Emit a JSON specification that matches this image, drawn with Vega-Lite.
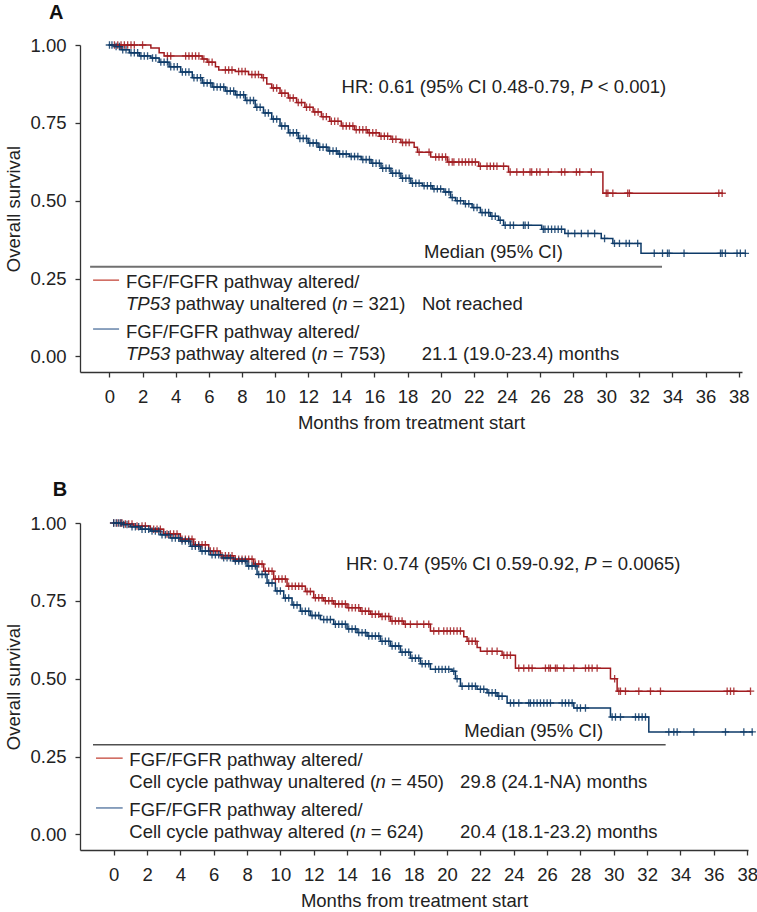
{
"$schema": "https://vega.github.io/schema/vega-lite/v6.json",
"padding": {"left": 4, "top": 3, "right": 0, "bottom": 0},
"background": "white",
"spacing": 47,
"config": {
  "view": {"stroke": null},
  "axis": {"labelFont": "Liberation Sans", "titleFont": "Liberation Sans", "labelFontSize": 18.5, "titleFontSize": 18.5, "titleFontWeight": "normal", "labelColor": "#222", "titleColor": "#222", "domainColor": "#333", "tickColor": "#333", "domainWidth": 1.3, "tickWidth": 1.3, "tickSize": 5, "grid": false, "labelFlush": false, "labelOverlap": false},
  "text": {"font": "Liberation Sans", "fontSize": 18.5, "color": "#222"}
},
"datasets": {
  "one": [{"k": 1}],
  "curveA": [
    {"group":"unaltered","month":0,"survival":1},{"group":"unaltered","month":2.5,"survival":0.99},{"group":"unaltered","month":3.0,"survival":0.975},{"group":"unaltered","month":3.3,"survival":0.965},{"group":"unaltered","month":5.6,"survival":0.955},{"group":"unaltered","month":5.9,"survival":0.945},{"group":"unaltered","month":6.4,"survival":0.93},{"group":"unaltered","month":6.6,"survival":0.92},{"group":"unaltered","month":7.6,"survival":0.915},{"group":"unaltered","month":8.4,"survival":0.905},{"group":"unaltered","month":9.2,"survival":0.895},{"group":"unaltered","month":9.5,"survival":0.875},{"group":"unaltered","month":9.8,"survival":0.862},{"group":"unaltered","month":10.3,"survival":0.845},{"group":"unaltered","month":10.8,"survival":0.83},{"group":"unaltered","month":11.3,"survival":0.815},{"group":"unaltered","month":11.8,"survival":0.8},{"group":"unaltered","month":12.3,"survival":0.785},{"group":"unaltered","month":12.8,"survival":0.77},{"group":"unaltered","month":13.3,"survival":0.755},{"group":"unaltered","month":14.0,"survival":0.74},{"group":"unaltered","month":14.8,"survival":0.728},{"group":"unaltered","month":15.6,"survival":0.718},{"group":"unaltered","month":16.3,"survival":0.707},{"group":"unaltered","month":17.0,"survival":0.697},{"group":"unaltered","month":17.6,"survival":0.687},{"group":"unaltered","month":18.4,"survival":0.672},{"group":"unaltered","month":18.6,"survival":0.656},{"group":"unaltered","month":19.4,"survival":0.64},{"group":"unaltered","month":20.4,"survival":0.624},{"group":"unaltered","month":22.3,"survival":0.611},{"group":"unaltered","month":24.1,"survival":0.592},{"group":"unaltered","month":29.8,"survival":0.524},{"group":"unaltered","month":37.05,"survival":0.524},
    {"group":"altered","month":0,"survival":1},{"group":"altered","month":0.3,"survival":0.995},{"group":"altered","month":0.7,"survival":0.985},{"group":"altered","month":1.2,"survival":0.975},{"group":"altered","month":1.8,"survival":0.965},{"group":"altered","month":2.5,"survival":0.958},{"group":"altered","month":3.0,"survival":0.945},{"group":"altered","month":3.6,"survival":0.93},{"group":"altered","month":4.3,"survival":0.913},{"group":"altered","month":5.0,"survival":0.895},{"group":"altered","month":5.6,"survival":0.878},{"group":"altered","month":6.2,"survival":0.865},{"group":"altered","month":7.0,"survival":0.852},{"group":"altered","month":7.6,"survival":0.84},{"group":"altered","month":8.2,"survival":0.822},{"group":"altered","month":8.8,"survival":0.8},{"group":"altered","month":9.3,"survival":0.782},{"group":"altered","month":9.8,"survival":0.762},{"group":"altered","month":10.3,"survival":0.74},{"group":"altered","month":10.8,"survival":0.718},{"group":"altered","month":11.4,"survival":0.7},{"group":"altered","month":12.0,"survival":0.685},{"group":"altered","month":12.6,"survival":0.672},{"group":"altered","month":13.2,"survival":0.66},{"group":"altered","month":13.8,"survival":0.65},{"group":"altered","month":14.5,"survival":0.642},{"group":"altered","month":15.2,"survival":0.632},{"group":"altered","month":15.8,"survival":0.62},{"group":"altered","month":16.4,"survival":0.604},{"group":"altered","month":17.0,"survival":0.588},{"group":"altered","month":17.6,"survival":0.572},{"group":"altered","month":18.2,"survival":0.556},{"group":"altered","month":18.9,"survival":0.548},{"group":"altered","month":19.5,"survival":0.538},{"group":"altered","month":20.2,"survival":0.528},{"group":"altered","month":20.6,"survival":0.51},{"group":"altered","month":20.9,"survival":0.5},{"group":"altered","month":21.4,"survival":0.49},{"group":"altered","month":21.9,"survival":0.478},{"group":"altered","month":22.4,"survival":0.462},{"group":"altered","month":23.0,"survival":0.45},{"group":"altered","month":23.5,"survival":0.437},{"group":"altered","month":23.8,"survival":0.421},{"group":"altered","month":26.1,"survival":0.408},{"group":"altered","month":27.5,"survival":0.395},{"group":"altered","month":29.7,"survival":0.379},{"group":"altered","month":30.4,"survival":0.363},{"group":"altered","month":32.1,"survival":0.331},{"group":"altered","month":38.45,"survival":0.331}
  ],
  "censA": [
    {"group":"unaltered","month":0.3,"survival":1},{"group":"unaltered","month":0.5,"survival":1},{"group":"unaltered","month":0.7,"survival":1},{"group":"unaltered","month":0.9,"survival":1},{"group":"unaltered","month":1.1,"survival":1},{"group":"unaltered","month":1.3,"survival":1},{"group":"unaltered","month":1.5,"survival":1},{"group":"unaltered","month":2.0,"survival":1},{"group":"unaltered","month":3.5,"survival":0.965},{"group":"unaltered","month":3.7,"survival":0.965},{"group":"unaltered","month":4.6,"survival":0.965},{"group":"unaltered","month":4.8,"survival":0.965},{"group":"unaltered","month":5.0,"survival":0.965},{"group":"unaltered","month":5.2,"survival":0.965},{"group":"unaltered","month":5.4,"survival":0.965},{"group":"unaltered","month":5.7,"survival":0.955},{"group":"unaltered","month":6.0,"survival":0.945},{"group":"unaltered","month":6.2,"survival":0.945},{"group":"unaltered","month":7.0,"survival":0.92},{"group":"unaltered","month":7.2,"survival":0.92},{"group":"unaltered","month":7.4,"survival":0.92},{"group":"unaltered","month":7.8,"survival":0.915},{"group":"unaltered","month":8.0,"survival":0.915},{"group":"unaltered","month":8.2,"survival":0.915},{"group":"unaltered","month":8.6,"survival":0.905},{"group":"unaltered","month":8.8,"survival":0.905},{"group":"unaltered","month":9.0,"survival":0.905},{"group":"unaltered","month":9.3,"survival":0.895},{"group":"unaltered","month":9.9,"survival":0.862},{"group":"unaltered","month":10.1,"survival":0.862},{"group":"unaltered","month":10.4,"survival":0.845},{"group":"unaltered","month":10.6,"survival":0.845},{"group":"unaltered","month":10.9,"survival":0.83},{"group":"unaltered","month":11.1,"survival":0.83},{"group":"unaltered","month":11.4,"survival":0.815},{"group":"unaltered","month":11.6,"survival":0.815},{"group":"unaltered","month":11.9,"survival":0.8},{"group":"unaltered","month":12.1,"survival":0.8},{"group":"unaltered","month":12.4,"survival":0.785},{"group":"unaltered","month":12.6,"survival":0.785},{"group":"unaltered","month":12.9,"survival":0.77},{"group":"unaltered","month":13.1,"survival":0.77},{"group":"unaltered","month":13.4,"survival":0.755},{"group":"unaltered","month":13.6,"survival":0.755},{"group":"unaltered","month":13.8,"survival":0.755},{"group":"unaltered","month":14.1,"survival":0.74},{"group":"unaltered","month":14.3,"survival":0.74},{"group":"unaltered","month":14.5,"survival":0.74},{"group":"unaltered","month":14.7,"survival":0.74},{"group":"unaltered","month":14.9,"survival":0.728},{"group":"unaltered","month":15.1,"survival":0.728},{"group":"unaltered","month":15.3,"survival":0.728},{"group":"unaltered","month":15.5,"survival":0.728},{"group":"unaltered","month":15.7,"survival":0.718},{"group":"unaltered","month":15.9,"survival":0.718},{"group":"unaltered","month":16.1,"survival":0.718},{"group":"unaltered","month":16.4,"survival":0.707},{"group":"unaltered","month":16.6,"survival":0.707},{"group":"unaltered","month":16.8,"survival":0.707},{"group":"unaltered","month":17.1,"survival":0.697},{"group":"unaltered","month":17.3,"survival":0.697},{"group":"unaltered","month":17.7,"survival":0.687},{"group":"unaltered","month":17.9,"survival":0.687},{"group":"unaltered","month":18.1,"survival":0.687},{"group":"unaltered","month":18.7,"survival":0.656},{"group":"unaltered","month":19.3,"survival":0.656},{"group":"unaltered","month":19.7,"survival":0.64},{"group":"unaltered","month":19.9,"survival":0.64},{"group":"unaltered","month":20.1,"survival":0.64},{"group":"unaltered","month":20.3,"survival":0.64},{"group":"unaltered","month":20.5,"survival":0.624},{"group":"unaltered","month":20.7,"survival":0.624},{"group":"unaltered","month":20.8,"survival":0.624},{"group":"unaltered","month":21.1,"survival":0.624},{"group":"unaltered","month":21.3,"survival":0.624},{"group":"unaltered","month":21.5,"survival":0.624},{"group":"unaltered","month":21.7,"survival":0.624},{"group":"unaltered","month":21.9,"survival":0.624},{"group":"unaltered","month":22.1,"survival":0.624},{"group":"unaltered","month":22.4,"survival":0.611},{"group":"unaltered","month":22.8,"survival":0.611},{"group":"unaltered","month":23.0,"survival":0.611},{"group":"unaltered","month":23.2,"survival":0.611},{"group":"unaltered","month":23.4,"survival":0.611},{"group":"unaltered","month":23.8,"survival":0.611},{"group":"unaltered","month":24.2,"survival":0.592},{"group":"unaltered","month":24.6,"survival":0.592},{"group":"unaltered","month":25.0,"survival":0.592},{"group":"unaltered","month":25.4,"survival":0.592},{"group":"unaltered","month":25.5,"survival":0.592},{"group":"unaltered","month":25.8,"survival":0.592},{"group":"unaltered","month":26.0,"survival":0.592},{"group":"unaltered","month":26.5,"survival":0.592},{"group":"unaltered","month":27.3,"survival":0.592},{"group":"unaltered","month":27.5,"survival":0.592},{"group":"unaltered","month":28.2,"survival":0.592},{"group":"unaltered","month":28.4,"survival":0.592},{"group":"unaltered","month":29.1,"survival":0.592},{"group":"unaltered","month":30.0,"survival":0.524},{"group":"unaltered","month":30.1,"survival":0.524},{"group":"unaltered","month":30.4,"survival":0.524},{"group":"unaltered","month":31.3,"survival":0.524},{"group":"unaltered","month":31.4,"survival":0.524},{"group":"unaltered","month":36.8,"survival":0.524},{"group":"unaltered","month":37.0,"survival":0.524},
    {"group":"altered","month":0.0,"survival":1},{"group":"altered","month":0.15,"survival":1},{"group":"altered","month":0.4,"survival":0.995},{"group":"altered","month":0.6,"survival":0.995},{"group":"altered","month":0.8,"survival":0.985},{"group":"altered","month":1.0,"survival":0.985},{"group":"altered","month":1.3,"survival":0.975},{"group":"altered","month":1.5,"survival":0.975},{"group":"altered","month":1.7,"survival":0.975},{"group":"altered","month":1.9,"survival":0.965},{"group":"altered","month":2.1,"survival":0.965},{"group":"altered","month":2.3,"survival":0.965},{"group":"altered","month":2.6,"survival":0.958},{"group":"altered","month":2.8,"survival":0.958},{"group":"altered","month":3.1,"survival":0.945},{"group":"altered","month":3.3,"survival":0.945},{"group":"altered","month":3.5,"survival":0.945},{"group":"altered","month":3.7,"survival":0.93},{"group":"altered","month":3.9,"survival":0.93},{"group":"altered","month":4.1,"survival":0.93},{"group":"altered","month":4.4,"survival":0.913},{"group":"altered","month":4.6,"survival":0.913},{"group":"altered","month":4.8,"survival":0.913},{"group":"altered","month":5.1,"survival":0.895},{"group":"altered","month":5.3,"survival":0.895},{"group":"altered","month":5.5,"survival":0.895},{"group":"altered","month":5.7,"survival":0.878},{"group":"altered","month":5.9,"survival":0.878},{"group":"altered","month":6.1,"survival":0.878},{"group":"altered","month":6.3,"survival":0.865},{"group":"altered","month":6.5,"survival":0.865},{"group":"altered","month":6.7,"survival":0.865},{"group":"altered","month":6.9,"survival":0.865},{"group":"altered","month":7.1,"survival":0.852},{"group":"altered","month":7.3,"survival":0.852},{"group":"altered","month":7.5,"survival":0.852},{"group":"altered","month":7.7,"survival":0.84},{"group":"altered","month":7.9,"survival":0.84},{"group":"altered","month":8.1,"survival":0.84},{"group":"altered","month":8.3,"survival":0.822},{"group":"altered","month":8.5,"survival":0.822},{"group":"altered","month":8.7,"survival":0.822},{"group":"altered","month":8.9,"survival":0.8},{"group":"altered","month":9.1,"survival":0.8},{"group":"altered","month":9.4,"survival":0.782},{"group":"altered","month":9.6,"survival":0.782},{"group":"altered","month":9.9,"survival":0.762},{"group":"altered","month":10.1,"survival":0.762},{"group":"altered","month":10.4,"survival":0.74},{"group":"altered","month":10.6,"survival":0.74},{"group":"altered","month":10.9,"survival":0.718},{"group":"altered","month":11.1,"survival":0.718},{"group":"altered","month":11.3,"survival":0.718},{"group":"altered","month":11.5,"survival":0.7},{"group":"altered","month":11.7,"survival":0.7},{"group":"altered","month":11.9,"survival":0.7},{"group":"altered","month":12.1,"survival":0.685},{"group":"altered","month":12.3,"survival":0.685},{"group":"altered","month":12.5,"survival":0.685},{"group":"altered","month":12.7,"survival":0.672},{"group":"altered","month":12.9,"survival":0.672},{"group":"altered","month":13.1,"survival":0.672},{"group":"altered","month":13.3,"survival":0.66},{"group":"altered","month":13.5,"survival":0.66},{"group":"altered","month":13.7,"survival":0.66},{"group":"altered","month":13.9,"survival":0.65},{"group":"altered","month":14.1,"survival":0.65},{"group":"altered","month":14.3,"survival":0.65},{"group":"altered","month":14.6,"survival":0.642},{"group":"altered","month":14.8,"survival":0.642},{"group":"altered","month":15.0,"survival":0.642},{"group":"altered","month":15.3,"survival":0.632},{"group":"altered","month":15.5,"survival":0.632},{"group":"altered","month":15.7,"survival":0.632},{"group":"altered","month":15.9,"survival":0.62},{"group":"altered","month":16.1,"survival":0.62},{"group":"altered","month":16.3,"survival":0.62},{"group":"altered","month":16.5,"survival":0.604},{"group":"altered","month":16.7,"survival":0.604},{"group":"altered","month":16.9,"survival":0.604},{"group":"altered","month":17.1,"survival":0.588},{"group":"altered","month":17.3,"survival":0.588},{"group":"altered","month":17.5,"survival":0.588},{"group":"altered","month":17.7,"survival":0.572},{"group":"altered","month":17.9,"survival":0.572},{"group":"altered","month":18.1,"survival":0.572},{"group":"altered","month":18.3,"survival":0.556},{"group":"altered","month":18.5,"survival":0.556},{"group":"altered","month":18.7,"survival":0.556},{"group":"altered","month":19.0,"survival":0.548},{"group":"altered","month":19.2,"survival":0.548},{"group":"altered","month":19.4,"survival":0.548},{"group":"altered","month":19.6,"survival":0.538},{"group":"altered","month":19.8,"survival":0.538},{"group":"altered","month":20.0,"survival":0.538},{"group":"altered","month":20.3,"survival":0.528},{"group":"altered","month":20.5,"survival":0.528},{"group":"altered","month":20.7,"survival":0.51},{"group":"altered","month":21.0,"survival":0.5},{"group":"altered","month":21.2,"survival":0.5},{"group":"altered","month":21.5,"survival":0.49},{"group":"altered","month":21.7,"survival":0.49},{"group":"altered","month":22.0,"survival":0.478},{"group":"altered","month":22.2,"survival":0.478},{"group":"altered","month":22.5,"survival":0.462},{"group":"altered","month":22.7,"survival":0.462},{"group":"altered","month":22.9,"survival":0.462},{"group":"altered","month":23.1,"survival":0.45},{"group":"altered","month":23.3,"survival":0.45},{"group":"altered","month":23.6,"survival":0.437},{"group":"altered","month":23.9,"survival":0.421},{"group":"altered","month":24.2,"survival":0.421},{"group":"altered","month":24.4,"survival":0.421},{"group":"altered","month":25.0,"survival":0.421},{"group":"altered","month":25.1,"survival":0.421},{"group":"altered","month":25.3,"survival":0.421},{"group":"altered","month":26.2,"survival":0.408},{"group":"altered","month":26.3,"survival":0.408},{"group":"altered","month":26.5,"survival":0.408},{"group":"altered","month":26.7,"survival":0.408},{"group":"altered","month":26.9,"survival":0.408},{"group":"altered","month":27.1,"survival":0.408},{"group":"altered","month":27.3,"survival":0.408},{"group":"altered","month":27.7,"survival":0.395},{"group":"altered","month":28.1,"survival":0.395},{"group":"altered","month":28.5,"survival":0.395},{"group":"altered","month":28.9,"survival":0.395},{"group":"altered","month":29.3,"survival":0.395},{"group":"altered","month":29.9,"survival":0.379},{"group":"altered","month":30.5,"survival":0.363},{"group":"altered","month":30.8,"survival":0.363},{"group":"altered","month":31.2,"survival":0.363},{"group":"altered","month":31.4,"survival":0.363},{"group":"altered","month":31.9,"survival":0.363},{"group":"altered","month":32.9,"survival":0.331},{"group":"altered","month":33.4,"survival":0.331},{"group":"altered","month":33.7,"survival":0.331},{"group":"altered","month":33.8,"survival":0.331},{"group":"altered","month":34.7,"survival":0.331},{"group":"altered","month":36.9,"survival":0.331},{"group":"altered","month":37.0,"survival":0.331},{"group":"altered","month":37.2,"survival":0.331},{"group":"altered","month":37.9,"survival":0.331},{"group":"altered","month":38.1,"survival":0.331},{"group":"altered","month":38.4,"survival":0.331}
  ],
  "curveB": [
    {"group":"unaltered","month":0,"survival":1},{"group":"unaltered","month":0.6,"survival":0.997},{"group":"unaltered","month":1.2,"survival":0.99},{"group":"unaltered","month":2.2,"survival":0.98},{"group":"unaltered","month":3.0,"survival":0.965},{"group":"unaltered","month":4.0,"survival":0.948},{"group":"unaltered","month":4.8,"survival":0.93},{"group":"unaltered","month":5.7,"survival":0.91},{"group":"unaltered","month":6.4,"survival":0.895},{"group":"unaltered","month":7.2,"survival":0.884},{"group":"unaltered","month":8.4,"survival":0.868},{"group":"unaltered","month":9.0,"survival":0.845},{"group":"unaltered","month":9.6,"survival":0.82},{"group":"unaltered","month":10.4,"survival":0.797},{"group":"unaltered","month":11.5,"survival":0.78},{"group":"unaltered","month":12.0,"survival":0.76},{"group":"unaltered","month":12.6,"survival":0.75},{"group":"unaltered","month":13.2,"survival":0.74},{"group":"unaltered","month":14.0,"survival":0.728},{"group":"unaltered","month":14.8,"survival":0.717},{"group":"unaltered","month":15.4,"survival":0.707},{"group":"unaltered","month":16.0,"survival":0.7},{"group":"unaltered","month":16.6,"survival":0.685},{"group":"unaltered","month":17.4,"survival":0.675},{"group":"unaltered","month":19.0,"survival":0.653},{"group":"unaltered","month":21.0,"survival":0.635},{"group":"unaltered","month":21.2,"survival":0.62},{"group":"unaltered","month":21.8,"survival":0.6},{"group":"unaltered","month":22.0,"survival":0.588},{"group":"unaltered","month":23.3,"survival":0.575},{"group":"unaltered","month":24.1,"survival":0.534},{"group":"unaltered","month":29.8,"survival":0.5},{"group":"unaltered","month":30.2,"survival":0.46},{"group":"unaltered","month":38.2,"survival":0.46},
    {"group":"altered","month":0,"survival":1},{"group":"altered","month":0.5,"survival":0.995},{"group":"altered","month":1.0,"survival":0.988},{"group":"altered","month":1.6,"survival":0.98},{"group":"altered","month":2.2,"survival":0.974},{"group":"altered","month":2.8,"survival":0.962},{"group":"altered","month":3.4,"survival":0.952},{"group":"altered","month":4.0,"survival":0.942},{"group":"altered","month":4.6,"survival":0.925},{"group":"altered","month":5.2,"survival":0.91},{"group":"altered","month":5.8,"survival":0.898},{"group":"altered","month":6.5,"survival":0.888},{"group":"altered","month":7.2,"survival":0.878},{"group":"altered","month":8.0,"survival":0.862},{"group":"altered","month":8.6,"survival":0.835},{"group":"altered","month":9.2,"survival":0.807},{"group":"altered","month":9.7,"survival":0.782},{"group":"altered","month":10.2,"survival":0.759},{"group":"altered","month":10.7,"survival":0.737},{"group":"altered","month":11.2,"survival":0.717},{"group":"altered","month":11.8,"survival":0.703},{"group":"altered","month":12.4,"survival":0.69},{"group":"altered","month":13.2,"survival":0.675},{"group":"altered","month":14.0,"survival":0.66},{"group":"altered","month":14.6,"survival":0.648},{"group":"altered","month":15.2,"survival":0.637},{"group":"altered","month":16.0,"survival":0.62},{"group":"altered","month":16.6,"survival":0.605},{"group":"altered","month":17.2,"survival":0.585},{"group":"altered","month":17.8,"survival":0.566},{"group":"altered","month":18.4,"survival":0.548},{"group":"altered","month":19.0,"survival":0.53},{"group":"altered","month":20.3,"survival":0.524},{"group":"altered","month":20.5,"survival":0.5},{"group":"altered","month":20.8,"survival":0.476},{"group":"altered","month":21.8,"survival":0.466},{"group":"altered","month":22.4,"survival":0.455},{"group":"altered","month":23.0,"survival":0.444},{"group":"altered","month":23.6,"survival":0.422},{"group":"altered","month":27.6,"survival":0.406},{"group":"altered","month":29.8,"survival":0.377},{"group":"altered","month":32.1,"survival":0.329},{"group":"altered","month":38.35,"survival":0.329}
  ],
  "censB": [
    {"group":"unaltered","month":0.0,"survival":1},{"group":"unaltered","month":0.2,"survival":1},{"group":"unaltered","month":0.4,"survival":1},{"group":"unaltered","month":0.5,"survival":1},{"group":"unaltered","month":0.7,"survival":0.997},{"group":"unaltered","month":0.9,"survival":0.997},{"group":"unaltered","month":1.1,"survival":0.997},{"group":"unaltered","month":1.4,"survival":0.99},{"group":"unaltered","month":1.7,"survival":0.99},{"group":"unaltered","month":1.9,"survival":0.99},{"group":"unaltered","month":2.4,"survival":0.98},{"group":"unaltered","month":2.6,"survival":0.98},{"group":"unaltered","month":2.8,"survival":0.98},{"group":"unaltered","month":3.2,"survival":0.965},{"group":"unaltered","month":3.4,"survival":0.965},{"group":"unaltered","month":3.6,"survival":0.965},{"group":"unaltered","month":3.8,"survival":0.965},{"group":"unaltered","month":4.1,"survival":0.948},{"group":"unaltered","month":4.3,"survival":0.948},{"group":"unaltered","month":4.5,"survival":0.948},{"group":"unaltered","month":4.7,"survival":0.948},{"group":"unaltered","month":4.9,"survival":0.93},{"group":"unaltered","month":5.1,"survival":0.93},{"group":"unaltered","month":5.3,"survival":0.93},{"group":"unaltered","month":5.5,"survival":0.93},{"group":"unaltered","month":5.8,"survival":0.91},{"group":"unaltered","month":6.0,"survival":0.91},{"group":"unaltered","month":6.2,"survival":0.91},{"group":"unaltered","month":6.5,"survival":0.895},{"group":"unaltered","month":6.7,"survival":0.895},{"group":"unaltered","month":6.9,"survival":0.895},{"group":"unaltered","month":7.1,"survival":0.895},{"group":"unaltered","month":7.3,"survival":0.884},{"group":"unaltered","month":7.5,"survival":0.884},{"group":"unaltered","month":7.7,"survival":0.884},{"group":"unaltered","month":7.9,"survival":0.884},{"group":"unaltered","month":8.1,"survival":0.884},{"group":"unaltered","month":8.3,"survival":0.884},{"group":"unaltered","month":8.5,"survival":0.868},{"group":"unaltered","month":8.7,"survival":0.868},{"group":"unaltered","month":8.9,"survival":0.868},{"group":"unaltered","month":9.1,"survival":0.845},{"group":"unaltered","month":9.3,"survival":0.845},{"group":"unaltered","month":9.5,"survival":0.845},{"group":"unaltered","month":9.7,"survival":0.82},{"group":"unaltered","month":9.9,"survival":0.82},{"group":"unaltered","month":10.1,"survival":0.82},{"group":"unaltered","month":10.3,"survival":0.82},{"group":"unaltered","month":10.5,"survival":0.797},{"group":"unaltered","month":10.7,"survival":0.797},{"group":"unaltered","month":10.9,"survival":0.797},{"group":"unaltered","month":11.1,"survival":0.797},{"group":"unaltered","month":11.3,"survival":0.797},{"group":"unaltered","month":11.6,"survival":0.78},{"group":"unaltered","month":11.8,"survival":0.78},{"group":"unaltered","month":12.1,"survival":0.76},{"group":"unaltered","month":12.3,"survival":0.76},{"group":"unaltered","month":12.5,"survival":0.76},{"group":"unaltered","month":12.7,"survival":0.75},{"group":"unaltered","month":12.9,"survival":0.75},{"group":"unaltered","month":13.1,"survival":0.75},{"group":"unaltered","month":13.3,"survival":0.74},{"group":"unaltered","month":13.5,"survival":0.74},{"group":"unaltered","month":13.7,"survival":0.74},{"group":"unaltered","month":13.9,"survival":0.74},{"group":"unaltered","month":14.1,"survival":0.728},{"group":"unaltered","month":14.3,"survival":0.728},{"group":"unaltered","month":14.5,"survival":0.728},{"group":"unaltered","month":14.7,"survival":0.728},{"group":"unaltered","month":14.9,"survival":0.717},{"group":"unaltered","month":15.1,"survival":0.717},{"group":"unaltered","month":15.3,"survival":0.717},{"group":"unaltered","month":15.5,"survival":0.707},{"group":"unaltered","month":15.7,"survival":0.707},{"group":"unaltered","month":15.9,"survival":0.707},{"group":"unaltered","month":16.1,"survival":0.7},{"group":"unaltered","month":16.3,"survival":0.7},{"group":"unaltered","month":16.5,"survival":0.7},{"group":"unaltered","month":16.7,"survival":0.685},{"group":"unaltered","month":16.9,"survival":0.685},{"group":"unaltered","month":17.1,"survival":0.685},{"group":"unaltered","month":17.3,"survival":0.685},{"group":"unaltered","month":17.5,"survival":0.675},{"group":"unaltered","month":17.8,"survival":0.675},{"group":"unaltered","month":18.2,"survival":0.675},{"group":"unaltered","month":18.6,"survival":0.675},{"group":"unaltered","month":18.9,"survival":0.675},{"group":"unaltered","month":19.2,"survival":0.653},{"group":"unaltered","month":19.5,"survival":0.653},{"group":"unaltered","month":19.8,"survival":0.653},{"group":"unaltered","month":20.0,"survival":0.653},{"group":"unaltered","month":20.2,"survival":0.653},{"group":"unaltered","month":20.4,"survival":0.653},{"group":"unaltered","month":20.6,"survival":0.653},{"group":"unaltered","month":20.8,"survival":0.653},{"group":"unaltered","month":21.3,"survival":0.62},{"group":"unaltered","month":21.5,"survival":0.62},{"group":"unaltered","month":21.7,"survival":0.62},{"group":"unaltered","month":22.4,"survival":0.588},{"group":"unaltered","month":22.7,"survival":0.588},{"group":"unaltered","month":23.0,"survival":0.588},{"group":"unaltered","month":23.4,"survival":0.575},{"group":"unaltered","month":23.6,"survival":0.575},{"group":"unaltered","month":23.8,"survival":0.575},{"group":"unaltered","month":24.3,"survival":0.534},{"group":"unaltered","month":24.6,"survival":0.534},{"group":"unaltered","month":24.9,"survival":0.534},{"group":"unaltered","month":25.1,"survival":0.534},{"group":"unaltered","month":25.9,"survival":0.534},{"group":"unaltered","month":26.1,"survival":0.534},{"group":"unaltered","month":26.2,"survival":0.534},{"group":"unaltered","month":26.5,"survival":0.534},{"group":"unaltered","month":26.6,"survival":0.534},{"group":"unaltered","month":27.0,"survival":0.534},{"group":"unaltered","month":27.6,"survival":0.534},{"group":"unaltered","month":28.3,"survival":0.534},{"group":"unaltered","month":28.5,"survival":0.534},{"group":"unaltered","month":28.7,"survival":0.534},{"group":"unaltered","month":29.0,"survival":0.534},{"group":"unaltered","month":30.05,"survival":0.5},{"group":"unaltered","month":30.3,"survival":0.46},{"group":"unaltered","month":30.4,"survival":0.46},{"group":"unaltered","month":30.7,"survival":0.46},{"group":"unaltered","month":31.5,"survival":0.46},{"group":"unaltered","month":32.2,"survival":0.46},{"group":"unaltered","month":32.8,"survival":0.46},{"group":"unaltered","month":36.8,"survival":0.46},{"group":"unaltered","month":37.0,"survival":0.46},{"group":"unaltered","month":37.2,"survival":0.46},{"group":"unaltered","month":38.2,"survival":0.46},
    {"group":"altered","month":0.0,"survival":1},{"group":"altered","month":0.15,"survival":1},{"group":"altered","month":0.3,"survival":1},{"group":"altered","month":0.45,"survival":1},{"group":"altered","month":0.6,"survival":0.995},{"group":"altered","month":0.8,"survival":0.995},{"group":"altered","month":1.1,"survival":0.988},{"group":"altered","month":1.3,"survival":0.988},{"group":"altered","month":1.5,"survival":0.988},{"group":"altered","month":1.7,"survival":0.98},{"group":"altered","month":1.9,"survival":0.98},{"group":"altered","month":2.1,"survival":0.98},{"group":"altered","month":2.3,"survival":0.974},{"group":"altered","month":2.5,"survival":0.974},{"group":"altered","month":2.7,"survival":0.974},{"group":"altered","month":2.9,"survival":0.962},{"group":"altered","month":3.1,"survival":0.962},{"group":"altered","month":3.3,"survival":0.962},{"group":"altered","month":3.5,"survival":0.952},{"group":"altered","month":3.7,"survival":0.952},{"group":"altered","month":3.9,"survival":0.952},{"group":"altered","month":4.1,"survival":0.942},{"group":"altered","month":4.3,"survival":0.942},{"group":"altered","month":4.5,"survival":0.942},{"group":"altered","month":4.7,"survival":0.925},{"group":"altered","month":4.9,"survival":0.925},{"group":"altered","month":5.1,"survival":0.925},{"group":"altered","month":5.3,"survival":0.91},{"group":"altered","month":5.5,"survival":0.91},{"group":"altered","month":5.7,"survival":0.91},{"group":"altered","month":5.9,"survival":0.898},{"group":"altered","month":6.1,"survival":0.898},{"group":"altered","month":6.3,"survival":0.898},{"group":"altered","month":6.6,"survival":0.888},{"group":"altered","month":6.8,"survival":0.888},{"group":"altered","month":7.0,"survival":0.888},{"group":"altered","month":7.3,"survival":0.878},{"group":"altered","month":7.5,"survival":0.878},{"group":"altered","month":7.7,"survival":0.878},{"group":"altered","month":7.9,"survival":0.878},{"group":"altered","month":8.1,"survival":0.862},{"group":"altered","month":8.3,"survival":0.862},{"group":"altered","month":8.5,"survival":0.862},{"group":"altered","month":8.7,"survival":0.835},{"group":"altered","month":8.9,"survival":0.835},{"group":"altered","month":9.1,"survival":0.835},{"group":"altered","month":9.3,"survival":0.807},{"group":"altered","month":9.5,"survival":0.807},{"group":"altered","month":9.8,"survival":0.782},{"group":"altered","month":10.0,"survival":0.782},{"group":"altered","month":10.3,"survival":0.759},{"group":"altered","month":10.5,"survival":0.759},{"group":"altered","month":10.8,"survival":0.737},{"group":"altered","month":11.0,"survival":0.737},{"group":"altered","month":11.3,"survival":0.717},{"group":"altered","month":11.5,"survival":0.717},{"group":"altered","month":11.7,"survival":0.717},{"group":"altered","month":11.9,"survival":0.703},{"group":"altered","month":12.1,"survival":0.703},{"group":"altered","month":12.3,"survival":0.703},{"group":"altered","month":12.6,"survival":0.69},{"group":"altered","month":12.8,"survival":0.69},{"group":"altered","month":13.0,"survival":0.69},{"group":"altered","month":13.3,"survival":0.675},{"group":"altered","month":13.5,"survival":0.675},{"group":"altered","month":13.7,"survival":0.675},{"group":"altered","month":13.9,"survival":0.675},{"group":"altered","month":14.1,"survival":0.66},{"group":"altered","month":14.3,"survival":0.66},{"group":"altered","month":14.5,"survival":0.66},{"group":"altered","month":14.7,"survival":0.648},{"group":"altered","month":14.9,"survival":0.648},{"group":"altered","month":15.1,"survival":0.648},{"group":"altered","month":15.3,"survival":0.637},{"group":"altered","month":15.5,"survival":0.637},{"group":"altered","month":15.7,"survival":0.637},{"group":"altered","month":15.9,"survival":0.637},{"group":"altered","month":16.1,"survival":0.62},{"group":"altered","month":16.3,"survival":0.62},{"group":"altered","month":16.5,"survival":0.62},{"group":"altered","month":16.7,"survival":0.605},{"group":"altered","month":16.9,"survival":0.605},{"group":"altered","month":17.1,"survival":0.605},{"group":"altered","month":17.3,"survival":0.585},{"group":"altered","month":17.5,"survival":0.585},{"group":"altered","month":17.7,"survival":0.585},{"group":"altered","month":17.9,"survival":0.566},{"group":"altered","month":18.1,"survival":0.566},{"group":"altered","month":18.3,"survival":0.566},{"group":"altered","month":18.5,"survival":0.548},{"group":"altered","month":18.7,"survival":0.548},{"group":"altered","month":18.9,"survival":0.548},{"group":"altered","month":19.3,"survival":0.53},{"group":"altered","month":19.5,"survival":0.53},{"group":"altered","month":19.7,"survival":0.53},{"group":"altered","month":19.9,"survival":0.53},{"group":"altered","month":20.1,"survival":0.53},{"group":"altered","month":20.4,"survival":0.524},{"group":"altered","month":20.6,"survival":0.5},{"group":"altered","month":20.9,"survival":0.476},{"group":"altered","month":21.3,"survival":0.476},{"group":"altered","month":21.5,"survival":0.476},{"group":"altered","month":21.7,"survival":0.476},{"group":"altered","month":22.0,"survival":0.466},{"group":"altered","month":22.2,"survival":0.466},{"group":"altered","month":22.5,"survival":0.455},{"group":"altered","month":22.7,"survival":0.455},{"group":"altered","month":22.9,"survival":0.455},{"group":"altered","month":23.1,"survival":0.444},{"group":"altered","month":23.3,"survival":0.444},{"group":"altered","month":23.8,"survival":0.422},{"group":"altered","month":24.0,"survival":0.422},{"group":"altered","month":24.3,"survival":0.422},{"group":"altered","month":24.9,"survival":0.422},{"group":"altered","month":25.0,"survival":0.422},{"group":"altered","month":25.2,"survival":0.422},{"group":"altered","month":25.4,"survival":0.422},{"group":"altered","month":25.6,"survival":0.422},{"group":"altered","month":25.8,"survival":0.422},{"group":"altered","month":26.0,"survival":0.422},{"group":"altered","month":26.2,"survival":0.422},{"group":"altered","month":26.9,"survival":0.422},{"group":"altered","month":27.1,"survival":0.422},{"group":"altered","month":27.3,"survival":0.422},{"group":"altered","month":27.5,"survival":0.422},{"group":"altered","month":27.8,"survival":0.406},{"group":"altered","month":28.0,"survival":0.406},{"group":"altered","month":28.3,"survival":0.406},{"group":"altered","month":29.9,"survival":0.377},{"group":"altered","month":30.1,"survival":0.377},{"group":"altered","month":30.4,"survival":0.377},{"group":"altered","month":31.3,"survival":0.377},{"group":"altered","month":31.5,"survival":0.377},{"group":"altered","month":31.7,"survival":0.377},{"group":"altered","month":31.9,"survival":0.377},{"group":"altered","month":33.3,"survival":0.329},{"group":"altered","month":33.6,"survival":0.329},{"group":"altered","month":33.8,"survival":0.329},{"group":"altered","month":34.8,"survival":0.329},{"group":"altered","month":36.7,"survival":0.329},{"group":"altered","month":37.8,"survival":0.329},{"group":"altered","month":38.3,"survival":0.329}
  ]
},
"vconcat": [
  {
    "width": 662, "height": 327,
    "layer": [
      {"data": {"name": "curveA"},
       "mark": {"type": "line", "interpolate": "step-after", "strokeWidth": 1.5},
       "encoding": {
         "x": {"field": "month", "type": "quantitative", "scale": {"domain": [-1.78, 38.2], "nice": false, "zero": false},
               "axis": {"values": [0,2,4,6,8,10,12,14,16,18,20,22,24,26,28,30,32,34,36,38], "tickCount": 40, "labelOverlap": false, "labelPadding": 10, "titlePadding": 8, "title": "Months from treatment start"}},
         "y": {"field": "survival", "type": "quantitative", "scale": {"domain": [-0.05, 1], "nice": false, "zero": false},
               "axis": {"values": [0, 0.25, 0.5, 0.75, 1], "tickCount": 10, "format": ".2f", "labelOverlap": false, "labelPadding": 9, "titlePadding": 6, "title": "Overall survival"}},
         "color": {"field": "group", "type": "nominal", "scale": {"domain": ["unaltered", "altered"], "range": ["#a11c20", "#0d3a68"]}, "legend": null}
       }},
      {"data": {"name": "censA"},
       "mark": {"type": "point", "shape": "M0,-1L0,1M-1,0L1,0", "filled": false, "size": 56, "strokeWidth": 1.3, "opacity": 0.85},
       "encoding": {
         "x": {"field": "month", "type": "quantitative"},
         "y": {"field": "survival", "type": "quantitative"},
         "color": {"field": "group", "type": "nominal", "legend": null}
       }},
      {"data": {"name": "one"}, "mark": {"type": "text", "align": "left", "baseline": "middle", "fontSize": 20, "fontWeight": "bold", "color": "#111"},
       "encoding": {"x": {"datum": -3.65, "type": "quantitative"}, "y": {"datum": 1.102, "type": "quantitative"}, "text": {"value": "A"}}},
      {"data": {"name": "one"}, "mark": {"type": "text", "align": "left", "baseline": "middle"},
       "encoding": {"x": {"datum": 14.02, "type": "quantitative"}, "y": {"datum": 0.866, "type": "quantitative"}, "text": {"value": "HR: 0.61 (95% CI 0.48-0.79,"}}},
      {"data": {"name": "one"}, "mark": {"type": "text", "align": "left", "baseline": "middle", "fontStyle": "italic"},
       "encoding": {"x": {"datum": 28.43, "type": "quantitative"}, "y": {"datum": 0.866, "type": "quantitative"}, "text": {"value": "P"}}},
      {"data": {"name": "one"}, "mark": {"type": "text", "align": "left", "baseline": "middle"},
       "encoding": {"x": {"datum": 29.49, "type": "quantitative"}, "y": {"datum": 0.866, "type": "quantitative"}, "text": {"value": "< 0.001)"}}},
      {"data": {"name": "one"}, "mark": {"type": "rule", "color": "#707070", "strokeWidth": 2},
       "encoding": {"x": {"datum": -1.17, "type": "quantitative"}, "x2": {"datum": 33.37}, "y": {"datum": 0.288, "type": "quantitative"}}},
      {"data": {"name": "one"}, "mark": {"type": "text", "align": "left", "baseline": "middle"},
       "encoding": {"x": {"datum": 19.0, "type": "quantitative"}, "y": {"datum": 0.336, "type": "quantitative"}, "text": {"value": "Median (95% CI)"}}},
      {"data": {"name": "one"}, "mark": {"type": "rule", "color": "#c0392b", "strokeWidth": 1.2},
       "encoding": {"x": {"datum": -0.99, "type": "quantitative"}, "x2": {"datum": 0.58}, "y": {"datum": 0.245, "type": "quantitative"}}},
      {"data": {"name": "one"}, "mark": {"type": "rule", "color": "#3f6494", "strokeWidth": 1.2},
       "encoding": {"x": {"datum": -0.99, "type": "quantitative"}, "x2": {"datum": 0.58}, "y": {"datum": 0.088, "type": "quantitative"}}},
      {"data": {"name": "one"}, "mark": {"type": "text", "align": "left", "baseline": "middle"},
       "encoding": {"x": {"datum": 1.0, "type": "quantitative"}, "y": {"datum": 0.240, "type": "quantitative"}, "text": {"value": "FGF/FGFR pathway altered/"}}},
      {"data": {"name": "one"}, "mark": {"type": "text", "align": "left", "baseline": "middle", "fontStyle": "italic"},
       "encoding": {"x": {"datum": 1.0, "type": "quantitative"}, "y": {"datum": 0.168, "type": "quantitative"}, "text": {"value": "TP53"}}},
      {"data": {"name": "one"}, "mark": {"type": "text", "align": "left", "baseline": "middle"},
       "encoding": {"x": {"datum": 3.98, "type": "quantitative"}, "y": {"datum": 0.168, "type": "quantitative"}, "text": {"value": "pathway unaltered ("}}},
      {"data": {"name": "one"}, "mark": {"type": "text", "align": "left", "baseline": "middle", "fontStyle": "italic"},
       "encoding": {"x": {"datum": 13.75, "type": "quantitative"}, "y": {"datum": 0.168, "type": "quantitative"}, "text": {"value": "n"}}},
      {"data": {"name": "one"}, "mark": {"type": "text", "align": "left", "baseline": "middle"},
       "encoding": {"x": {"datum": 14.68, "type": "quantitative"}, "y": {"datum": 0.168, "type": "quantitative"}, "text": {"value": "= 321)"}}},
      {"data": {"name": "one"}, "mark": {"type": "text", "align": "left", "baseline": "middle"},
       "encoding": {"x": {"datum": 18.87, "type": "quantitative"}, "y": {"datum": 0.168, "type": "quantitative"}, "text": {"value": "Not reached"}}},
      {"data": {"name": "one"}, "mark": {"type": "text", "align": "left", "baseline": "middle"},
       "encoding": {"x": {"datum": 1.0, "type": "quantitative"}, "y": {"datum": 0.078, "type": "quantitative"}, "text": {"value": "FGF/FGFR pathway altered/"}}},
      {"data": {"name": "one"}, "mark": {"type": "text", "align": "left", "baseline": "middle", "fontStyle": "italic"},
       "encoding": {"x": {"datum": 1.0, "type": "quantitative"}, "y": {"datum": 0.008, "type": "quantitative"}, "text": {"value": "TP53"}}},
      {"data": {"name": "one"}, "mark": {"type": "text", "align": "left", "baseline": "middle"},
       "encoding": {"x": {"datum": 3.98, "type": "quantitative"}, "y": {"datum": 0.008, "type": "quantitative"}, "text": {"value": "pathway altered ("}}},
      {"data": {"name": "one"}, "mark": {"type": "text", "align": "left", "baseline": "middle", "fontStyle": "italic"},
       "encoding": {"x": {"datum": 12.55, "type": "quantitative"}, "y": {"datum": 0.008, "type": "quantitative"}, "text": {"value": "n"}}},
      {"data": {"name": "one"}, "mark": {"type": "text", "align": "left", "baseline": "middle"},
       "encoding": {"x": {"datum": 13.48, "type": "quantitative"}, "y": {"datum": 0.008, "type": "quantitative"}, "text": {"value": "= 753)"}}},
      {"data": {"name": "one"}, "mark": {"type": "text", "align": "left", "baseline": "middle"},
       "encoding": {"x": {"datum": 18.86, "type": "quantitative"}, "y": {"datum": 0.008, "type": "quantitative"}, "text": {"value": "21.1 (19.0-23.4) months"}}}
    ]
  },
  {
    "width": 668, "height": 327,
    "layer": [
      {"data": {"name": "curveB"},
       "mark": {"type": "line", "interpolate": "step-after", "strokeWidth": 1.5},
       "encoding": {
         "x": {"field": "month", "type": "quantitative", "scale": {"domain": [-2.02, 38.05], "nice": false, "zero": false},
               "axis": {"values": [0,2,4,6,8,10,12,14,16,18,20,22,24,26,28,30,32,34,36,38], "tickCount": 40, "labelOverlap": false, "labelPadding": 10, "titlePadding": 8, "title": "Months from treatment start"}},
         "y": {"field": "survival", "type": "quantitative", "scale": {"domain": [-0.05, 1], "nice": false, "zero": false},
               "axis": {"values": [0, 0.25, 0.5, 0.75, 1], "tickCount": 10, "format": ".2f", "labelOverlap": false, "labelPadding": 9, "titlePadding": 6, "title": "Overall survival"}},
         "color": {"field": "group", "type": "nominal", "scale": {"domain": ["unaltered", "altered"], "range": ["#a11c20", "#0d3a68"]}, "legend": null}
       }},
      {"data": {"name": "censB"},
       "mark": {"type": "point", "shape": "M0,-1L0,1M-1,0L1,0", "filled": false, "size": 56, "strokeWidth": 1.3, "opacity": 0.85},
       "encoding": {
         "x": {"field": "month", "type": "quantitative"},
         "y": {"field": "survival", "type": "quantitative"},
         "color": {"field": "group", "type": "nominal", "legend": null}
       }},
      {"data": {"name": "one"}, "mark": {"type": "text", "align": "left", "baseline": "middle", "fontSize": 20, "fontWeight": "bold", "color": "#111"},
       "encoding": {"x": {"datum": -3.66, "type": "quantitative"}, "y": {"datum": 1.106, "type": "quantitative"}, "text": {"value": "B"}}},
      {"data": {"name": "one"}, "mark": {"type": "text", "align": "left", "baseline": "middle"},
       "encoding": {"x": {"datum": 13.93, "type": "quantitative"}, "y": {"datum": 0.867, "type": "quantitative"}, "text": {"value": "HR: 0.74 (95% CI 0.59-0.92,"}}},
      {"data": {"name": "one"}, "mark": {"type": "text", "align": "left", "baseline": "middle", "fontStyle": "italic"},
       "encoding": {"x": {"datum": 28.23, "type": "quantitative"}, "y": {"datum": 0.867, "type": "quantitative"}, "text": {"value": "P"}}},
      {"data": {"name": "one"}, "mark": {"type": "text", "align": "left", "baseline": "middle"},
       "encoding": {"x": {"datum": 29.28, "type": "quantitative"}, "y": {"datum": 0.867, "type": "quantitative"}, "text": {"value": "= 0.0065)"}}},
      {"data": {"name": "one"}, "mark": {"type": "rule", "color": "#505050", "strokeWidth": 1.5},
       "encoding": {"x": {"datum": -1.24, "type": "quantitative"}, "x2": {"datum": 33.11}, "y": {"datum": 0.288, "type": "quantitative"}}},
      {"data": {"name": "one"}, "mark": {"type": "text", "align": "left", "baseline": "middle"},
       "encoding": {"x": {"datum": 21.03, "type": "quantitative"}, "y": {"datum": 0.331, "type": "quantitative"}, "text": {"value": "Median (95% CI)"}}},
      {"data": {"name": "one"}, "mark": {"type": "rule", "color": "#c0392b", "strokeWidth": 1.2},
       "encoding": {"x": {"datum": -1.06, "type": "quantitative"}, "x2": {"datum": 0.54}, "y": {"datum": 0.245, "type": "quantitative"}}},
      {"data": {"name": "one"}, "mark": {"type": "rule", "color": "#3f6494", "strokeWidth": 1.2},
       "encoding": {"x": {"datum": -1.06, "type": "quantitative"}, "x2": {"datum": 0.54}, "y": {"datum": 0.085, "type": "quantitative"}}},
      {"data": {"name": "one"}, "mark": {"type": "text", "align": "left", "baseline": "middle"},
       "encoding": {"x": {"datum": 0.94, "type": "quantitative"}, "y": {"datum": 0.238, "type": "quantitative"}, "text": {"value": "FGF/FGFR pathway altered/"}}},
      {"data": {"name": "one"}, "mark": {"type": "text", "align": "left", "baseline": "middle"},
       "encoding": {"x": {"datum": 0.94, "type": "quantitative"}, "y": {"datum": 0.168, "type": "quantitative"}, "text": {"value": "Cell cycle pathway unaltered ("}}},
      {"data": {"name": "one"}, "mark": {"type": "text", "align": "left", "baseline": "middle", "fontStyle": "italic"},
       "encoding": {"x": {"datum": 15.7, "type": "quantitative"}, "y": {"datum": 0.168, "type": "quantitative"}, "text": {"value": "n"}}},
      {"data": {"name": "one"}, "mark": {"type": "text", "align": "left", "baseline": "middle"},
       "encoding": {"x": {"datum": 16.63, "type": "quantitative"}, "y": {"datum": 0.168, "type": "quantitative"}, "text": {"value": "= 450)"}}},
      {"data": {"name": "one"}, "mark": {"type": "text", "align": "left", "baseline": "middle"},
       "encoding": {"x": {"datum": 20.78, "type": "quantitative"}, "y": {"datum": 0.168, "type": "quantitative"}, "text": {"value": "29.8 (24.1-NA) months"}}},
      {"data": {"name": "one"}, "mark": {"type": "text", "align": "left", "baseline": "middle"},
       "encoding": {"x": {"datum": 0.94, "type": "quantitative"}, "y": {"datum": 0.077, "type": "quantitative"}, "text": {"value": "FGF/FGFR pathway altered/"}}},
      {"data": {"name": "one"}, "mark": {"type": "text", "align": "left", "baseline": "middle"},
       "encoding": {"x": {"datum": 0.94, "type": "quantitative"}, "y": {"datum": 0.007, "type": "quantitative"}, "text": {"value": "Cell cycle pathway altered ("}}},
      {"data": {"name": "one"}, "mark": {"type": "text", "align": "left", "baseline": "middle", "fontStyle": "italic"},
       "encoding": {"x": {"datum": 14.5, "type": "quantitative"}, "y": {"datum": 0.007, "type": "quantitative"}, "text": {"value": "n"}}},
      {"data": {"name": "one"}, "mark": {"type": "text", "align": "left", "baseline": "middle"},
       "encoding": {"x": {"datum": 15.42, "type": "quantitative"}, "y": {"datum": 0.007, "type": "quantitative"}, "text": {"value": "= 624)"}}},
      {"data": {"name": "one"}, "mark": {"type": "text", "align": "left", "baseline": "middle"},
       "encoding": {"x": {"datum": 20.78, "type": "quantitative"}, "y": {"datum": 0.007, "type": "quantitative"}, "text": {"value": "20.4 (18.1-23.2) months"}}}
    ]
  }
]
}
